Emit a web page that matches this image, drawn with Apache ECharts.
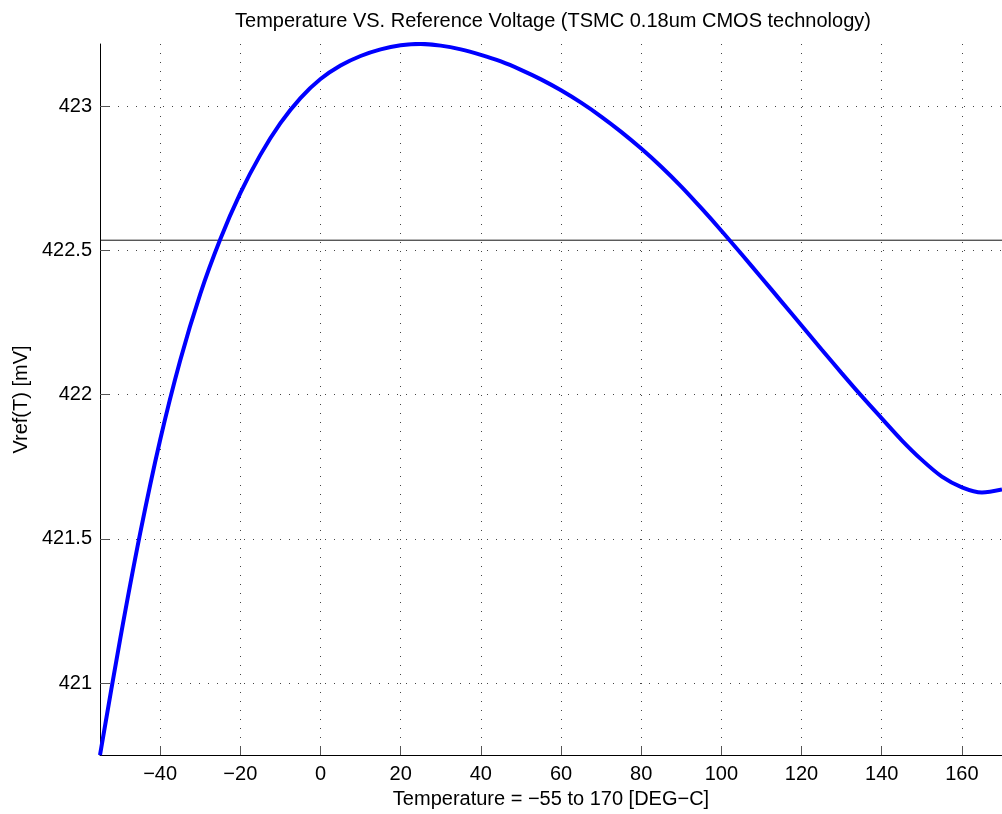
<!DOCTYPE html>
<html>
<head>
<meta charset="utf-8">
<script src="https://cdn.jsdelivr.net/npm/echarts@6/dist/echarts.min.js"></script>
<style>
html,body{margin:0;padding:0;background:#fff;}
#chart{width:1002px;height:814px;}
</style>
</head>
<body>
<div id="chart"></div>
<script>
// Temperature (deg C)
const temps = [-55,-50,-45,-40,-35,-30,-25,-20,-15,-10,-5,0,5,10,15,20,25,30,35,40,45,50,55,60,65,70,75,80,85,90,95,100,105,110,115,120,125,130,135,140,145,150,155,160,165,170];
// Vref (mV)
const vref = [420.75,421.15,421.518,421.843,422.119,422.349,422.539,422.699,422.832,422.942,423.029,423.095,423.142,423.175,423.198,423.212,423.217,423.211,423.198,423.179,423.156,423.127,423.094,423.056,423.013,422.965,422.912,422.854,422.791,422.722,422.647,422.569,422.488,422.406,422.323,422.240,422.157,422.075,421.995,421.918,421.842,421.774,421.716,421.679,421.661,421.671];
const refLevel = 422.536;
const xTicks = [-40,-20,0,20,40,60,80,100,120,140,160];
const yTicks = [421,421.5,422,422.5,423];
const xRange = [-55,170];
const yRange = [420.75,423.2166];

const FONT = 'Liberation Sans, Arial, sans-serif';
const FS = 20;
const chart = echarts.init(document.getElementById('chart'), null, {renderer:'canvas'});
const fmt = v => String(v).replace('-', '\u2212');
const gridStyle = {show:true, lineStyle:{color:'#444', width:1, type:[1,8]}};

chart.setOption({
  animation:false,
  backgroundColor:'#fff',
  grid:{left:100, right:-5, top:44, bottom:56, containLabel:false},
  graphic:[{
    type:'text', x:553, y:21,
    style:{text:'Temperature VS. Reference Voltage (TSMC 0.18um CMOS technology)', font:FS+'px '+FONT, fill:'#000', textAlign:'center', textVerticalAlign:'middle'}
  }],
  xAxis:{
    type:'value', min:xRange[0], max:xRange[1],
    name:'Temperature = \u221255 to 170 [DEG\u2212C]', nameLocation:'middle', nameGap:32,
    nameTextStyle:{fontFamily:FONT, fontSize:FS, color:'#000'},
    axisLine:{show:true, onZero:false, lineStyle:{color:'#000', width:1}},
    axisTick:{show:true, inside:true, length:9, customValues:xTicks, lineStyle:{color:'#555'}},
    axisLabel:{show:true, margin:9, customValues:xTicks, formatter:fmt, fontFamily:FONT, fontSize:FS, color:'#000'},
    splitLine:gridStyle
  },
  yAxis:{
    type:'value', min:yRange[0], max:yRange[1],
    name:'Vref(T) [mV]', nameLocation:'middle', nameGap:68,
    nameTextStyle:{fontFamily:FONT, fontSize:FS, color:'#000'},
    axisLine:{show:true, onZero:false, lineStyle:{color:'#000', width:1}},
    axisTick:{show:true, inside:true, length:9, customValues:yTicks, lineStyle:{color:'#555'}},
    axisLabel:{show:true, margin:8, customValues:yTicks, formatter:fmt, fontFamily:FONT, fontSize:FS, color:'#000'},
    splitLine:gridStyle
  },
  series:[
    {
      type:'line', data:[[xRange[0],refLevel],[xRange[1],refLevel]],
      symbol:'none', lineStyle:{color:'#111', width:1}, silent:true, z:2
    },
    {
      type:'line', data:temps.map((t,i)=>[t,vref[i]]),
      symbol:'none', smooth:0.3, lineStyle:{color:'#0000ff', width:4}, z:3, clip:true
    }
  ]
});
</script>
</body>
</html>
